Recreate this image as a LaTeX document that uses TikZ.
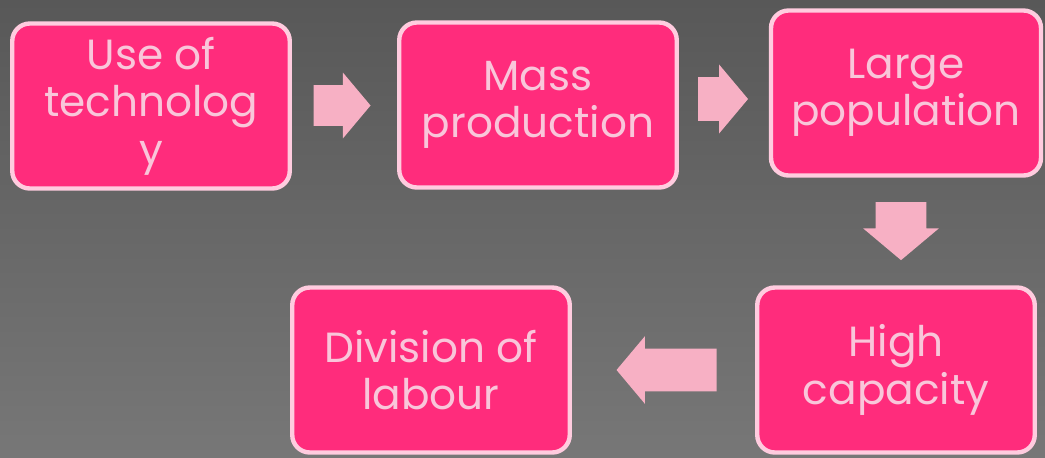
\documentclass[tikz,border=0pt]{standalone}
\usepackage{fontspec}
\setmainfont{Poppins}
\usepackage{tikz}
\usetikzlibrary{
    shapes.arrows,
    positioning,
    calc
}
\definecolor{boxpink}{HTML}{FF2C7C}
\definecolor{edgepink}{HTML}{FFCCDF}
\definecolor{textpink}{HTML}{F9C6DA}
\definecolor{arrowpink}{HTML}{F7B0C4}
\definecolor{bgtop}{HTML}{585858}
\definecolor{bgbottom}{HTML}{777777}
\tikzset{
    stagebox/.style={draw=edgepink, line width=2.5pt, rounded corners=10pt, fill=boxpink,
        text=textpink, align=center, minimum width=5.55cm, minimum height=3.3cm,
        font=\fontsize{24}{27}\selectfont},
    blockarrow/.style={single arrow, fill=arrowpink, draw=none, inner sep=0pt,
        single arrow tip angle=100, minimum width=1.3cm}
}

\begin{document}
\begin{tikzpicture}
                % Background
                \shade[top color=bgtop, bottom color=bgbottom] (0,0) rectangle (20.9,-9.14);
                \useasboundingbox (0,0) rectangle (20.9,-9.14);

                % Top row
                \node[stagebox] (use) at (3.02, -2.12) {Use of\\technolog\\y};
                \node[stagebox] (mass) at (10.76, -2.10) {Mass\\production};
                \node[stagebox, minimum width=5.4cm] (large) at (18.12, -1.86) {Large\\population};

                % Bottom row
                \node[stagebox] (high) at (17.92, -7.40) {High\\capacity};
                \node[stagebox] (division) at (8.62, -7.40) {Division of\\labour};

                % Arrows
                \node[blockarrow, minimum height=1.14cm, text height=0.8cm] (a1) at ($(use.east)!0.5!(mass.west) + (-0.22,0)$) {};
                \node[blockarrow, minimum height=1.0cm, text height=0.86cm, minimum width=1.26cm] (a2) at ($(mass.east)!0.5!(large.west) + (-0.2,0)$) {};
                \node[blockarrow, rotate=-90, minimum height=1.16cm, text height=1.0cm, minimum width=1.34cm] (a3) at ($(large.south)!0.5!(high.north) + (0,0.22)$) {};
                \node[blockarrow, rotate=180, minimum height=2.0cm, text height=0.84cm, minimum width=1.34cm] (a4) at ($(division.east)!0.5!(high.west) + (0.24,0)$) {};
\end{tikzpicture}
\end{document}
